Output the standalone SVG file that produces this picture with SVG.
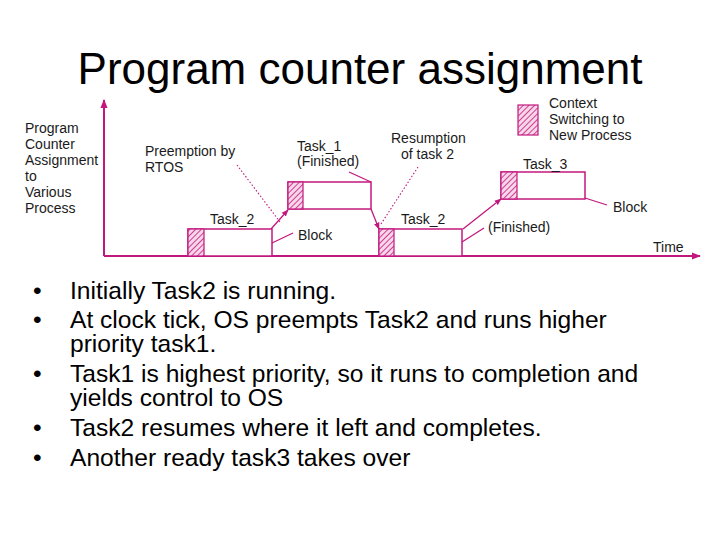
<svg xmlns="http://www.w3.org/2000/svg" width="720" height="540" viewBox="0 0 720 540">
<defs>
<pattern id="hatch" patternUnits="userSpaceOnUse" width="4" height="4" patternTransform="rotate(45)">
<rect width="4" height="4" fill="#f7d6ea"/>
<line x1="0" y1="0" x2="0" y2="4" stroke="#c2187d" stroke-width="1.6"/>
</pattern>
<marker id="ah" viewBox="0 0 10 10" refX="9" refY="5" markerWidth="7" markerHeight="7" orient="auto" markerUnits="userSpaceOnUse">
<path d="M0,1 L10,5 L0,9 Z" fill="#c2187d"/>
</marker>
<marker id="axh" viewBox="0 0 10 10" refX="9" refY="5" markerWidth="9" markerHeight="9" orient="auto" markerUnits="userSpaceOnUse">
<path d="M0,1 L10,5 L0,9 Z" fill="#c2187d"/>
</marker>
</defs>
<style>
.ln{stroke:#c2187d;stroke-width:1.3;fill:none}
.ax{stroke:#c2187d;stroke-width:2;fill:none}
.bx{stroke:#c2187d;stroke-width:1.5;fill:#fff}
.ht{stroke:#c2187d;stroke-width:1.2;fill:url(#hatch)}
.dt{stroke:#c2187d;stroke-width:1.1;stroke-dasharray:1.5 2;fill:none}
.lb{font-family:"Liberation Sans",Arial,sans-serif;font-size:14px;fill:#1a1a1a}
.title{font-family:"Liberation Sans",Arial,sans-serif;font-size:44px;fill:#000}
.bt{font-family:"Liberation Sans",Arial,sans-serif;font-size:24.6px;fill:#000}
</style>
<rect width="720" height="540" fill="#fff"/>
<text class="title" x="360" y="84" text-anchor="middle">Program counter assignment</text>

<g id="axes">
<line class="ax" x1="104" y1="256" x2="104" y2="100" marker-end="url(#axh)"/>
<line class="ax" x1="104" y1="256" x2="700" y2="256" marker-end="url(#axh)"/>
<text class="lb" x="25" y="133">Program</text>
<text class="lb" x="25" y="149">Counter</text>
<text class="lb" x="25" y="165">Assignment</text>
<text class="lb" x="25" y="181">to</text>
<text class="lb" x="25" y="197">Various</text>
<text class="lb" x="25" y="213">Process</text>
<text class="lb" x="653" y="252">Time</text>
</g>

<g id="legend">
<rect class="ht" x="518" y="105" width="20" height="30"/>
<text class="lb" x="549" y="108">Context</text>
<text class="lb" x="549" y="124">Switching to</text>
<text class="lb" x="549" y="140">New Process</text>
</g>

<g id="task2a">
<rect class="bx" x="188" y="229" width="84" height="27"/>
<rect class="ht" x="188" y="229" width="16" height="27"/>
<text class="lb" x="210" y="224">Task_2</text>
</g>
<g id="task1">
<rect class="bx" x="288" y="182" width="83" height="27"/>
<rect class="ht" x="288" y="182" width="15" height="27"/>
<text class="lb" x="297" y="151">Task_1</text>
<text class="lb" x="297" y="166">(Finished)</text>
</g>
<g id="task2b">
<rect class="bx" x="379" y="229" width="83" height="27"/>
<rect class="ht" x="379" y="229" width="15" height="27"/>
<text class="lb" x="401" y="224">Task_2</text>
</g>
<g id="task3">
<rect class="bx" x="501" y="172" width="84" height="27"/>
<rect class="ht" x="501" y="172" width="16" height="27"/>
<text class="lb" x="523" y="169">Task_3</text>
</g>

<g id="labels">
<text class="lb" x="145" y="156">Preemption by</text>
<text class="lb" x="145" y="172">RTOS</text>
<text class="lb" x="391" y="143">Resumption</text>
<text class="lb" x="401" y="159">of task 2</text>
<text class="lb" x="298" y="240">Block</text>
<text class="lb" x="613" y="212">Block</text>
<text class="lb" x="488" y="232">(Finished)</text>
</g>

<g id="connectors">
<line class="ln" x1="271" y1="229" x2="288" y2="210" marker-end="url(#ah)"/>
<line class="ln" x1="371" y1="209" x2="379" y2="229" marker-end="url(#ah)"/>
<line class="ln" x1="463" y1="229" x2="501" y2="199" marker-end="url(#ah)"/>
<line class="ln" x1="272" y1="243" x2="293" y2="233"/>
<line class="ln" x1="371" y1="182" x2="349" y2="172"/>
<line class="ln" x1="462" y1="242" x2="484" y2="228"/>
<line class="ln" x1="585" y1="198" x2="607" y2="205"/>
<line class="dt" x1="237" y1="165" x2="280" y2="222"/>
<line class="dt" x1="418" y1="167" x2="381" y2="224"/>
</g>

<g id="bullets">
<text class="bt" x="33" y="299">•</text>
<text class="bt" x="70" y="299">Initially Task2 is running.</text>
<text class="bt" x="33" y="328">•</text>
<text class="bt" x="70" y="328">At clock tick, OS preempts Task2 and runs higher</text>
<text class="bt" x="70" y="352">priority task1.</text>
<text class="bt" x="33" y="382">•</text>
<text class="bt" x="70" y="382">Task1 is highest priority, so it runs to completion and</text>
<text class="bt" x="70" y="406">yields control to OS</text>
<text class="bt" x="33" y="436">•</text>
<text class="bt" x="70" y="436">Task2 resumes where it left and completes.</text>
<text class="bt" x="33" y="466">•</text>
<text class="bt" x="70" y="466">Another ready task3 takes over</text>
</g>
</svg>
